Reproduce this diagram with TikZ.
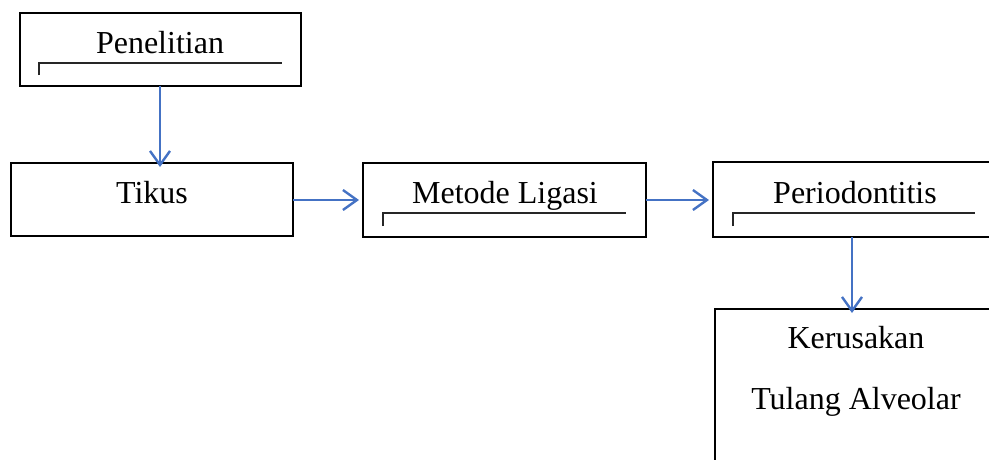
\documentclass[tikz,border=0pt]{standalone}
\usepackage{fontspec}
\setmainfont{Liberation Serif}
\usetikzlibrary{arrows.meta}
\definecolor{flowblue}{RGB}{68,114,196}
\begin{document}
\begin{tikzpicture}[x=1pt,y=-1pt,
  box/.style={draw=black,line width=1.3pt,fill=white},
  label/.style={font=\fontsize{32}{38}\selectfont,inner sep=0pt,anchor=base},
  flow/.style={draw=flowblue,line width=2.4pt,-{Straight Barb[length=14pt,width=20pt,line width=2.4pt]}},
  rule/.style={draw=black!85,line width=1.1pt}]
\useasboundingbox (0,0) rectangle (989,459);
\clip (0,0) rectangle (989,459);
% boxes
\draw[box] (20,13) rectangle (301,86);
\draw[box] (11,163) rectangle (293,236);
\draw[box] (363,163) rectangle (646,237);
\draw[box] (713,162) rectangle (1000,237);
\draw[box] (715,309) rectangle (1000,480);
% anchors for the connectors
\coordinate (pen-s) at (160,86);
\coordinate (tik-n) at (160,163);
\coordinate (tik-e) at (293,200);
\coordinate (met-w) at (363,200);
\coordinate (met-e) at (646,200);
\coordinate (per-w) at (713,200);
\coordinate (per-s) at (852,237);
\coordinate (ker-n) at (852,309);
% labels
\node[label] (pen) at (160,53) {Penelitian};
\node[label] (tik) at (152,203) {Tikus};
\node[label] (met) at (505,203) {Metode Ligasi};
\node[label] (per) at (855,203) {Periodontitis};
\node[label] (ker1) at (856,348) {Kerusakan};
\node[label] (ker2) at (856,409) {Tulang Alveolar};
% underline marks inside the boxes
\draw[rule] (39,75) -- (39,63) -- (282,63);
\draw[rule] (383,226) -- (383,213) -- (626,213);
\draw[rule] (733,226) -- (733,213) -- (975,213);
% connectors
\draw[flow] (pen-s) -- ([yshift=-4pt]tik-n);
\draw[flow] (tik-e) -- ([xshift=-4pt]met-w);
\draw[flow] (met-e) -- ([xshift=-4pt]per-w);
\draw[flow] (per-s) -- ([yshift=-4pt]ker-n);
\end{tikzpicture}
\end{document}
